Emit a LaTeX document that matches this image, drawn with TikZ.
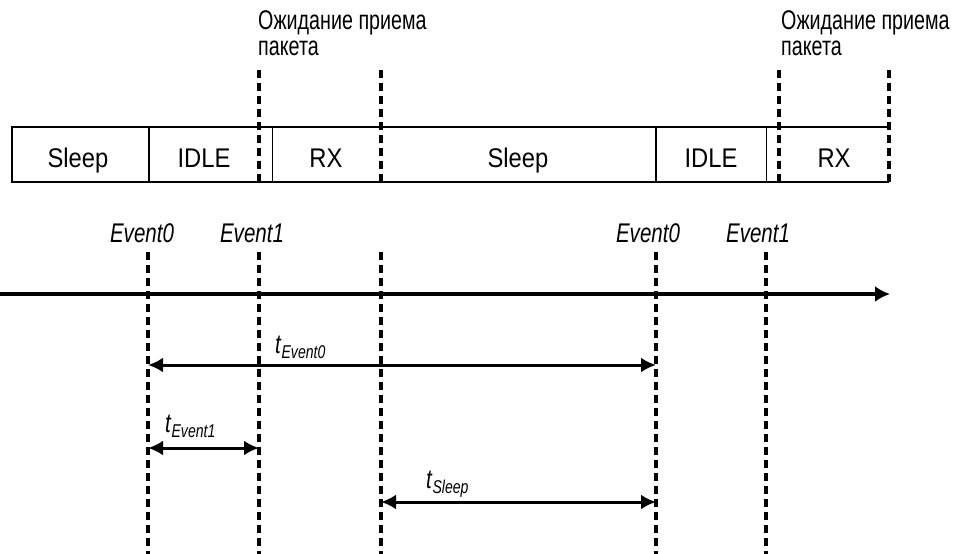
\documentclass[tikz,border=0pt]{standalone}
\usepackage{fontspec}
\setmainfont{Liberation Sans}[FakeStretch=0.88]
\newfontfamily\cyrf{Liberation Sans}[FakeStretch=0.73]
\newfontfamily\itaf{Liberation Sans}[FakeStretch=0.76]
\usetikzlibrary{arrows.meta}
\newcommand{\tsubl}[1]{\textit{t}\raisebox{-5pt}{\fontsize{18.5}{18.5}\selectfont\itshape #1}}
\begin{document}
\begin{tikzpicture}[x=1pt,y=-1pt,
  txt/.style={font=\fontsize{27}{27}\selectfont, inner sep=0pt, anchor=base},
  evt/.style={font=\fontsize{27}{27}\selectfont\itaf\itshape, inner sep=0pt, anchor=base},
  tlab/.style={font=\fontsize{27}{27}\selectfont\cyrf, inner sep=0pt, anchor=base west},
  sublab/.style={font=\fontsize{27}{27}\selectfont\itaf, inner sep=0pt, anchor=base west},
  boxline/.style={line width=2pt},
  thinline/.style={line width=1pt},
  dashline/.style={line width=3.2pt, dash pattern=on 8pt off 5pt},
  axis/.style={line width=4.2pt, -{Latex[length=15pt,width=16pt]}},
  dim/.style={line width=3pt, {Latex[length=15pt,width=15pt]}-{Latex[length=15pt,width=15pt]}}
]
\useasboundingbox (0,0) rectangle (970,554);
% box
\coordinate (bl) at (12,182);
\coordinate (tl) at (12,127);
\coordinate (tr) at (889,127);
\coordinate (br) at (889,182);
\draw[boxline] (tr) -- (tl) -- (bl) -- (br);
\coordinate (d1t) at (149,127); \coordinate (d1b) at (149,182);
\coordinate (d2t) at (656,127); \coordinate (d2b) at (656,182);
\draw[boxline] (d1t) -- (d1b);
\draw[boxline] (d2t) -- (d2b);
\coordinate (t1t) at (272,127); \coordinate (t1b) at (272,182);
\coordinate (t2t) at (766,127); \coordinate (t2b) at (766,182);
\draw[thinline] (t1t) -- (t1b);
\draw[thinline] (t2t) -- (t2b);
% upper dashed lines
\foreach \n/\x in {ua/259, ub/381, uc/779, ud/889}{
  \coordinate (\n t) at (\x,70);
  \coordinate (\n b) at (\x,182);
  \draw[dashline] (\n t) -- (\n b);
}
% box texts
\node[txt] (s1) at (78,167) {Sleep};
\node[txt] (i1) at (204,167) {IDLE};
\node[txt] (r1) at (326,167) {RX};
\node[txt] (s2) at (518,167) {Sleep};
\node[txt] (i2) at (711,167) {IDLE};
\node[txt] (r2) at (834,167) {RX};
% top labels
\node[tlab] (w1a) at (258,30) {Ожидание приема};
\node[tlab] (w1b) at (258,55) {пакета};
\node[tlab] (w2a) at (781,30) {Ожидание приема};
\node[tlab] (w2b) at (781,55) {пакета};
% lower dashed lines
\foreach \n/\x in {la/148, lb/259, lc/381, ld/656, le/766}{
  \coordinate (\n t) at (\x,252);
  \coordinate (\n b) at (\x,556);
  \draw[dashline] (\n t) -- (\n b);
}
% axis
\coordinate (ax0) at (0,294);
\coordinate (ax1) at (890,294);
\draw[axis] (ax0) -- (ax1);
% events
\node[evt] (e0) at (142,242) {Event0};
\node[evt] (e1) at (252,242) {Event1};
\node[evt] (e2) at (648,242) {Event0};
\node[evt] (e3) at (758,242) {Event1};
% dimension arrows
\coordinate (a1l) at (148,365); \coordinate (a1r) at (656,365);
\draw[dim] (a1l) -- (a1r);
\node[sublab] (l1) at (275,353) {\tsubl{Event0}};
\coordinate (a2l) at (148,448); \coordinate (a2r) at (259,448);
\draw[dim] (a2l) -- (a2r);
\node[sublab] (l2) at (165,432) {\tsubl{Event1}};
\coordinate (a3l) at (381,502); \coordinate (a3r) at (656,502);
\draw[dim] (a3l) -- (a3r);
\node[sublab] (l3) at (426,488) {\tsubl{Sleep}};
\end{tikzpicture}
\end{document}
